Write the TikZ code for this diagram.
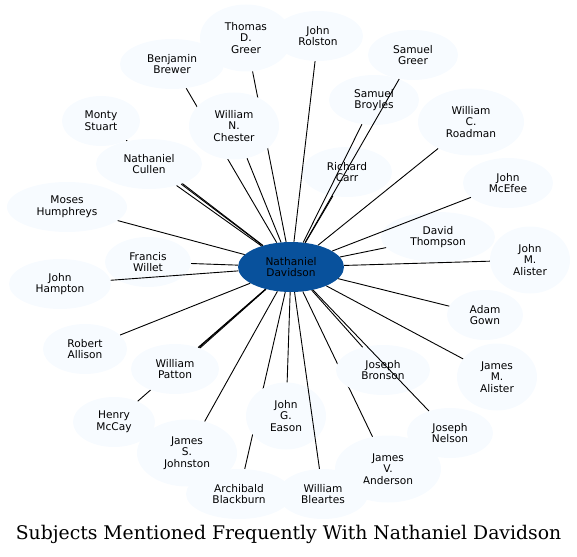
\documentclass[tikz,border=0pt]{standalone}
\usepackage{fontspec}
\newfontfamily\labelfont{DejaVu Sans}
\newfontfamily\titlefont{DejaVu Serif}
\usetikzlibrary{shapes.geometric}
\pgfdeclarelayer{background}
\pgfsetlayers{background,main}
\definecolor{leaf}{HTML}{F7FBFF}
\definecolor{hub}{HTML}{08519C}
\tikzset{
  vertex/.style={ellipse, fill=leaf, inner sep=0pt, minimum width=90pt,
    minimum height=50pt, align=center,
    font=\labelfont\fontsize{10.6}{11.7}\selectfont},
  tall/.style={minimum height=67pt},
  link/.style={line width=0.9pt},
}

\begin{document}
\begin{tikzpicture}[x=1pt,y=-1pt]
    \useasboundingbox (0,0) rectangle (577,556);

    % Vertices
      \node[vertex,fill=hub,minimum width=106pt] (nd) at (291,267) {Nathaniel\\Davidson};
      \node[vertex,tall,minimum width=92pt] (tg) at (246,38) {Thomas\\D.\\Greer};
      \node[vertex] (jr) at (318,36) {John\\Rolston};
      \node[vertex,minimum width=104pt] (bb) at (172,64) {Benjamin\\Brewer};
      \node[vertex] (sg) at (413,55) {Samuel\\Greer};
      \node[vertex] (sb) at (374,100) {Samuel\\Broyles};
      \node[vertex,tall] (wc) at (234,126) {William\\N.\\Chester};
      \node[vertex,minimum width=78pt] (ms) at (101,121) {Monty\\Stuart};
      \node[vertex,tall,minimum width=106pt] (wr) at (471,122) {William\\C.\\Roadman};
      \node[vertex,minimum width=106pt] (nc) at (149,164) {Nathaniel\\Cullen};
      \node[vertex] (rc) at (347,172) {Richard\\Carr};
      \node[vertex] (jme) at (508,183) {John\\McEfee};
      \node[vertex,minimum width=120pt] (mh) at (67,207) {Moses\\Humphreys};
      \node[vertex,minimum width=114pt] (dt) at (438,237) {David\\Thompson};
      \node[vertex,tall,minimum width=80pt] (jma) at (530,260) {John\\M.\\Alister};
      \node[vertex,minimum width=86pt] (fw) at (148,262) {Francis\\Willet};
      \node[vertex,minimum width=102pt] (jh) at (60,284) {John\\Hampton};
      \node[vertex,minimum width=76pt] (ag) at (485,315) {Adam\\Gown};
      \node[vertex,minimum width=84pt] (ra) at (85,349) {Robert\\Allison};
      \node[vertex,minimum width=88pt] (wp) at (175,369) {William\\Patton};
      \node[vertex,minimum width=94pt] (jb) at (383,370) {Joseph\\Bronson};
      \node[vertex,tall,minimum width=80pt] (jmal) at (497,377) {James\\M.\\Alister};
      \node[vertex,tall,minimum width=80pt] (jge) at (286,416) {John\\G.\\Eason};
      \node[vertex,minimum width=82pt] (hm) at (114,422) {Henry\\McCay};
      \node[vertex,minimum width=86pt] (jn) at (450,433) {Joseph\\Nelson};
      \node[vertex,tall,minimum width=100pt] (jsj) at (187,453) {James\\S.\\Johnston};
      \node[vertex,tall,minimum width=106pt] (jva) at (388,469) {James\\V.\\Anderson};
      \node[vertex,minimum width=106pt] (ab) at (239,494) {Archibald\\Blackburn};
      \node[vertex] (wb) at (323,494) {William\\Bleartes};

      % Edges (hidden behind other vertices)
      \begin{pgfonlayer}{background}
      \draw[link] (nd) -- (tg);
      \draw[link] (nd) -- (bb);
      \draw[link] (nd) -- (ms);
      \draw[link] (nd) -- (hm);
      \draw[link] (nd) -- (ab);
      \draw[link] (nd) -- (jva);
      \end{pgfonlayer}

      % Edges
      \draw[link] (nd) -- (jr);
      \draw[link] (nd) -- (sg);
      \draw[link] (nd) -- (sb);
      \draw[link] (nd) -- (wc);
      \draw[link] (nd) -- (wr);
      \draw[link] (nd) -- (nc.-32);
      \draw[link] (nd) -- (nc.-38);
      \draw[link] (nd) -- (rc);
      \draw[link] (nd) -- (jme);
      \draw[link] (nd) -- (mh);
      \draw[link] (nd) -- (dt);
      \draw[link] (nd) -- (jma);
      \draw[link] (nd) -- (fw);
      \draw[link] (nd) -- (jh);
      \draw[link] (nd) -- (ag);
      \draw[link] (nd) -- (ra);
      \draw[link] (nd) -- (wp.40);
      \draw[link] (nd) -- (wp.43);
      \draw[link] (nd) -- (jb);
      \draw[link] (nd) -- (jmal);
      \draw[link] (nd) -- (jge);
      \draw[link] (nd) -- (jn);
      \draw[link] (nd) -- (jsj);
      \draw[link] (nd) -- (wb);

      % Title
      \node[anchor=base,font=\titlefont\fontsize{18.8}{22}\selectfont] (title) at (288.5,539)
        {Subjects Mentioned Frequently With Nathaniel Davidson};
\end{tikzpicture}
\end{document}
